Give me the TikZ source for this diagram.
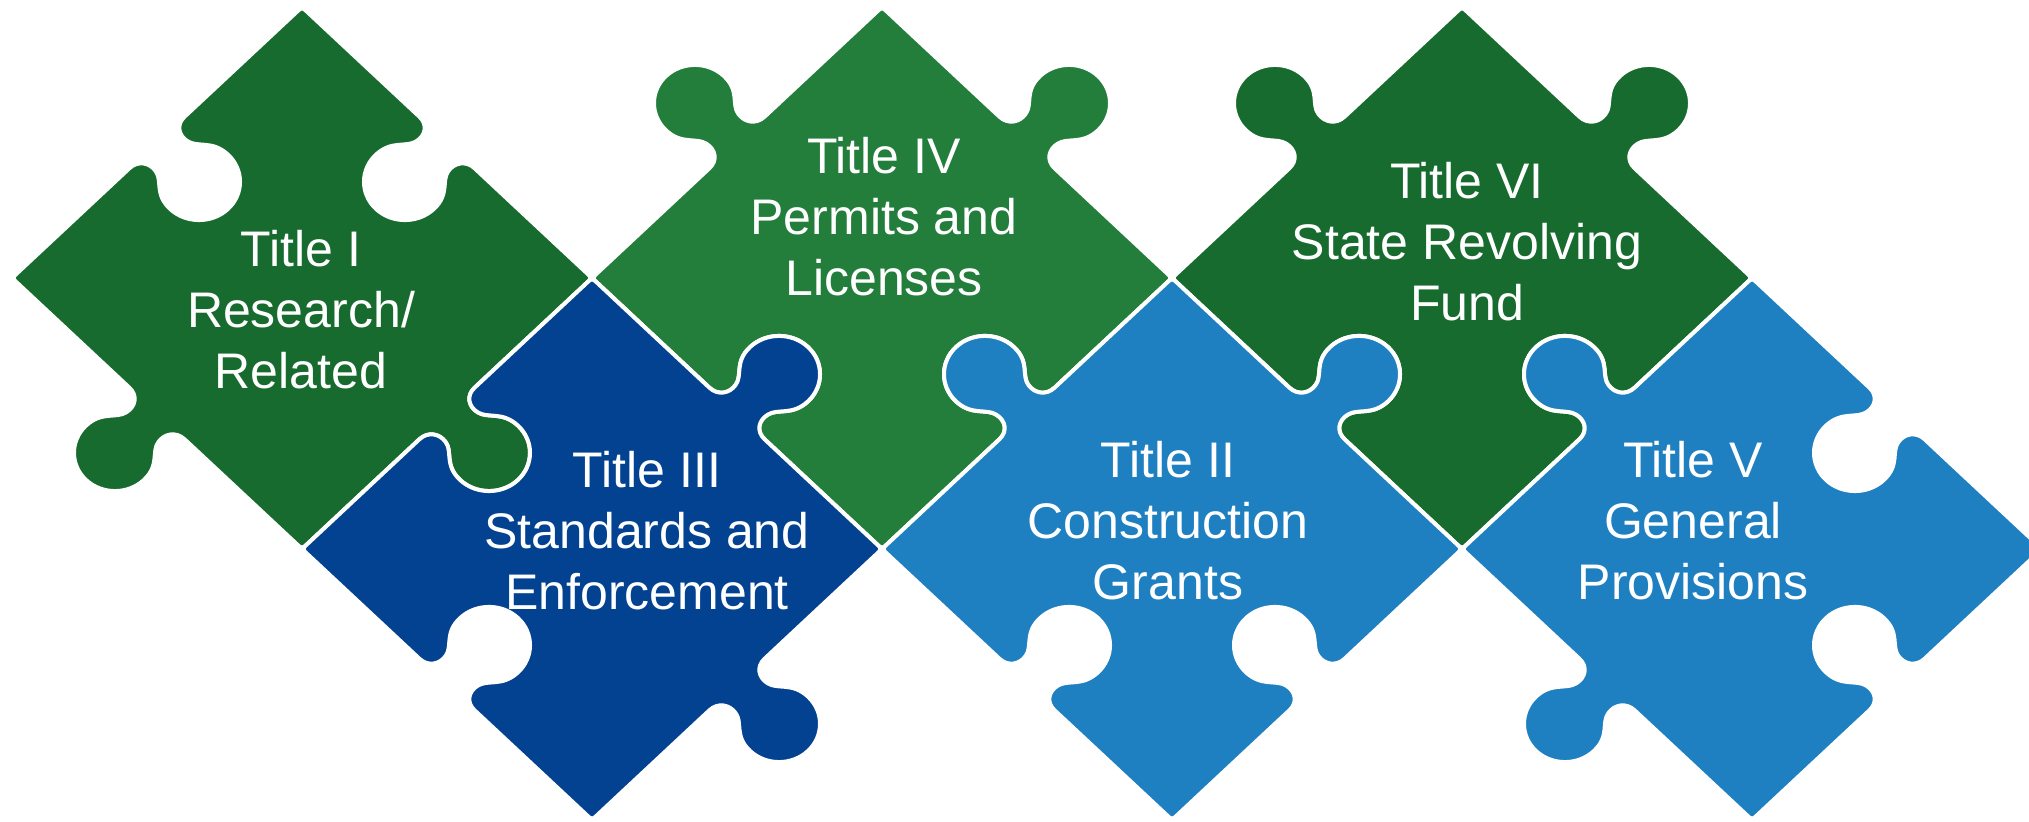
\documentclass[tikz,border=0pt]{standalone}
\usepackage{fontspec}
\setmainfont{Liberation Sans}
\definecolor{dkgreen}{HTML}{186B2E}
\definecolor{ltgreen}{HTML}{237D3B}
\definecolor{dkblue}{HTML}{034291}
\definecolor{ltblue}{HTML}{1E7FC1}
% point on an edge: A=(#1,#2), direction d=(#3,#4), sign #5, t=#6, n=#7
\newcommand\PP[7]{({#1+(#6)*(#3)-(#7)*(#5)*(#4)},{#2+(#6)*(#4)+(#7)*(#5)*(#3)})}
\newcommand\PE[5]{-- \PP{#1}{#2}{#3}{#4}{#5}{0.405}{0}
 .. controls \PP{#1}{#2}{#3}{#4}{#5}{0.435}{0} and \PP{#1}{#2}{#3}{#4}{#5}{0.45}{0.025} .. \PP{#1}{#2}{#3}{#4}{#5}{0.445}{0.05}
 .. controls \PP{#1}{#2}{#3}{#4}{#5}{0.44}{0.08} and \PP{#1}{#2}{#3}{#4}{#5}{0.40}{0.09} .. \PP{#1}{#2}{#3}{#4}{#5}{0.40}{0.145}
 .. controls \PP{#1}{#2}{#3}{#4}{#5}{0.40}{0.20} and \PP{#1}{#2}{#3}{#4}{#5}{0.445}{0.245} .. \PP{#1}{#2}{#3}{#4}{#5}{0.50}{0.245}
 .. controls \PP{#1}{#2}{#3}{#4}{#5}{0.555}{0.245} and \PP{#1}{#2}{#3}{#4}{#5}{0.60}{0.20} .. \PP{#1}{#2}{#3}{#4}{#5}{0.60}{0.145}
 .. controls \PP{#1}{#2}{#3}{#4}{#5}{0.60}{0.09} and \PP{#1}{#2}{#3}{#4}{#5}{0.56}{0.08} .. \PP{#1}{#2}{#3}{#4}{#5}{0.555}{0.05}
 .. controls \PP{#1}{#2}{#3}{#4}{#5}{0.55}{0.025} and \PP{#1}{#2}{#3}{#4}{#5}{0.565}{0} .. \PP{#1}{#2}{#3}{#4}{#5}{0.595}{0}
 -- \PP{#1}{#2}{#3}{#4}{#5}{0.98}{0}}
% piece: centre (#1,#2), signs TL TR BR BL (#3..#6), colour #7
\newcommand\puzzlepiece[7]{%
 \edef\piecepath{(-0.98,0.02) \PE{-1}{0}{1}{1}{#3} .. controls (0,1) .. (0.02,0.98) \PE{0}{1}{1}{-1}{#4} .. controls (1,0) .. (0.98,-0.02) \PE{1}{0}{-1}{-1}{#5} .. controls (0,-1) .. (-0.02,-0.98) \PE{0}{-1}{-1}{1}{#6} .. controls (-1,0) .. (-0.98,0.02) -- cycle}%
 \begin{scope}[shift={(#1,#2)},xscale=290,yscale=-271]
 \filldraw[pieceline,fill=#7] \piecepath;
 \end{scope}}
\tikzset{
 pieceline/.style={draw=white,line width=2pt,line join=round},
 label/.style={text=white,align=center,inner sep=0pt,font=\fontsize{25pt}{30.5pt}\selectfont}
}
\begin{document}
\begin{tikzpicture}[x=0.5pt,y=-0.5pt]
\useasboundingbox (0,0) rectangle (2029,822);
\clip (0,0) rectangle (2029,822);
\puzzlepiece{302}{278}{-1}{-1}{1}{1}{dkgreen}
\puzzlepiece{882}{278}{1}{1}{-1}{-1}{ltgreen}
\puzzlepiece{1462}{278}{1}{1}{-1}{-1}{dkgreen}
\puzzlepiece{592}{549}{-1}{1}{1}{-1}{dkblue}
\puzzlepiece{1172}{549}{1}{1}{-1}{-1}{ltblue}
\puzzlepiece{1752}{549}{1}{-1}{-1}{1}{ltblue}
\node[label] (t1) at (301,310) {Title I\\Research/\\Related};
\node[label] (t4) at (884,217) {Title IV\\Permits and\\Licenses};
\node[label] (t6) at (1467,242) {Title VI\\State Revolving\\Fund};
\node[label] (t3) at (647,531) {Title III\\Standards and\\Enforcement};
\node[label] (t2) at (1168,521) {Title II\\Construction\\Grants};
\node[label] (t5) at (1693,521) {Title V\\General\\Provisions};
\end{tikzpicture}
\end{document}
